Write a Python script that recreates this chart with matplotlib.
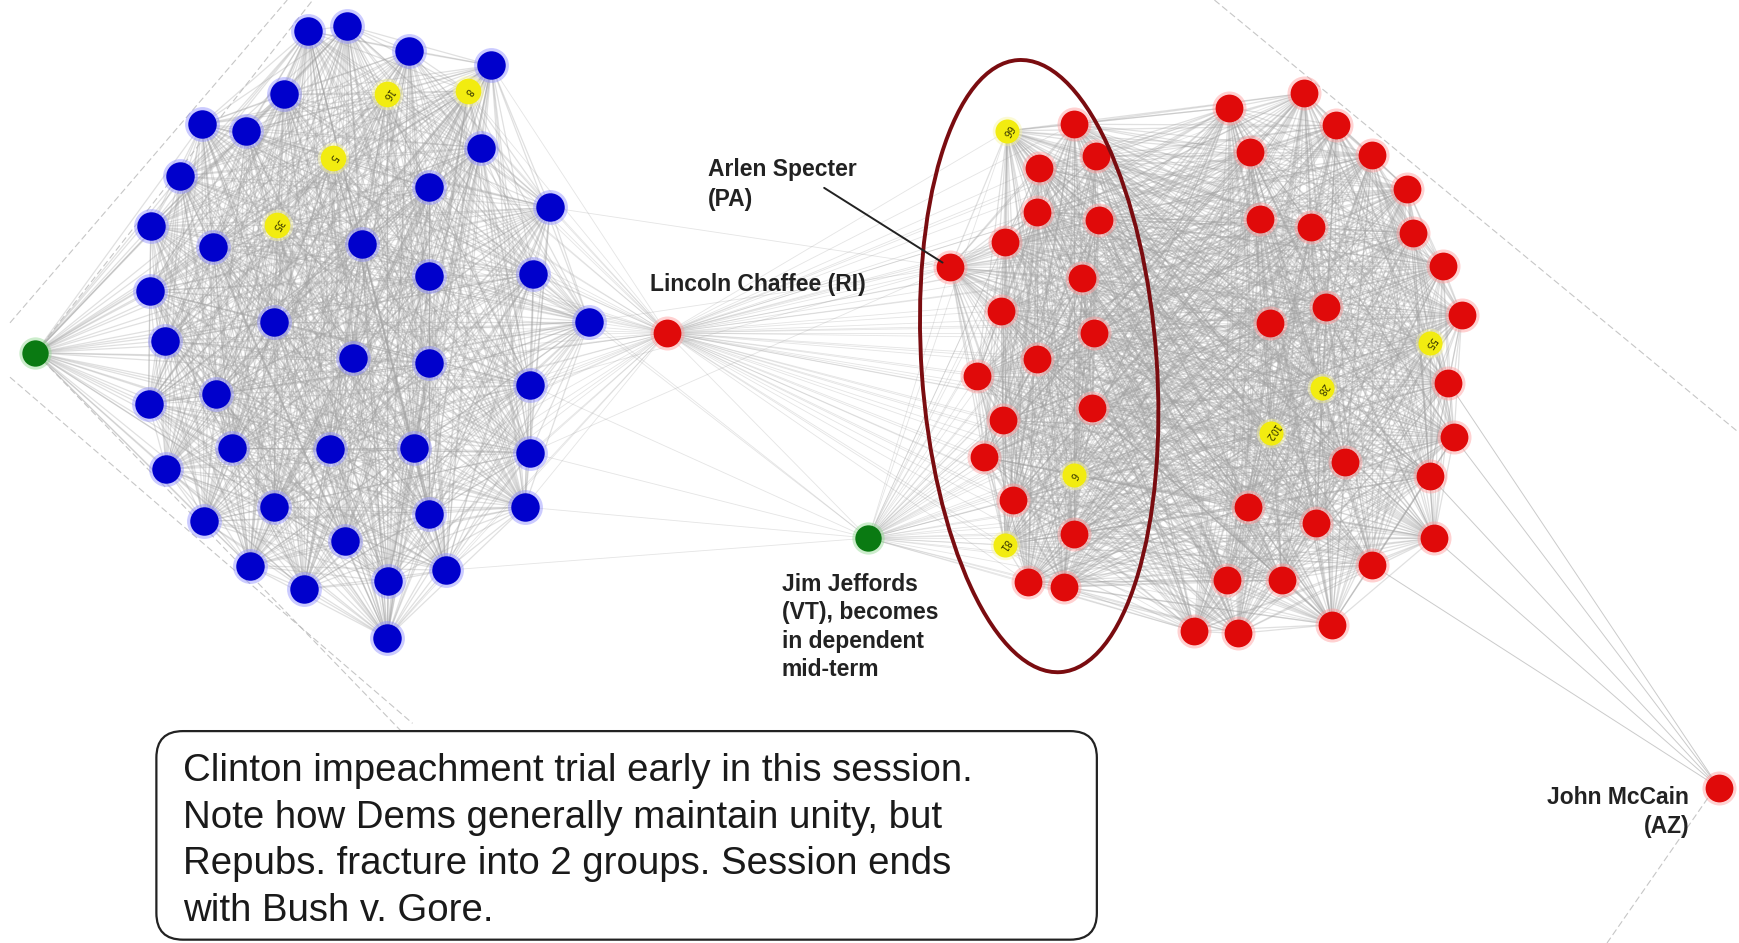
import itertools
import matplotlib
matplotlib.use("Agg")
import matplotlib.pyplot as plt
from matplotlib.collections import LineCollection
from matplotlib.patches import Ellipse, FancyBboxPatch

# ---------------- data (layout positions, px of 1568x850 view) -------------
dem_x = [278, 313, 369, 443, 256, 182, 222, 434, 162, 387, 496, 136, 192, 326, 387, 481, 135, 531,
         247, 149, 318, 387, 478, 134, 195, 209, 298, 373, 478, 150, 247, 387, 473, 184, 311, 225,
         402, 274, 350, 349]
dem_y = [28, 23, 46, 59, 85, 112, 118, 133, 159, 169, 187, 204, 223, 220, 249, 247, 262, 290,
         290, 307, 323, 327, 347, 364, 355, 404, 405, 404, 408, 423, 457, 463, 457, 470, 488, 510,
         514, 531, 524, 575]
dem_hl_x = [349, 422, 300, 250]
dem_hl_y = [85, 82, 142, 203]
dem_hl_labels = ["16", "8", "5", "35"]

rep_x = [968, 988, 937, 935, 991, 906, 857, 976, 903, 986, 935, 881, 985, 904, 887, 913, 968, 927,
         959,
         1108, 1176, 1205, 1237, 1269, 1127, 1136, 1182, 1274, 1301, 1318, 1196, 1145, 1306, 1311,
         1213, 1289, 1125, 1187, 1293, 1237, 1106, 1156, 1077, 1116, 1201]
rep_y = [112, 141, 151, 191, 198, 218, 241, 251, 280, 300, 324, 339, 368, 379, 412, 451, 481, 525,
         529,
         97, 84, 113, 140, 170, 137, 197, 205, 210, 240, 284, 277, 291, 345, 394,
         416, 429, 457, 471, 485, 509, 523, 523, 569, 571, 563]
rep_hl_x = [908, 968, 906, 1289, 1192, 1146]
rep_hl_y = [118, 428, 491, 309, 350, 390]
rep_hl_labels = ["66", "6", "81", "55", "28", "102"]

indep_x = [32, 783]          # left independent, Jim Jeffords
indep_y = [318, 485]
chaffee_xy = (601, 300)
mccain_xy = (1550, 710)
specter_idx = 6               # index in rep lists

# indices of Democrats linked to Jeffords / Specter, Republicans linked to McCain
jeffords_dem_links = [17, 22, 28, 32, 36, 15]
specter_dem_links = [17, 22, 28, 10]
mccain_rep_links = [32, 33, 35, 38, 39]

# faint long edges leaving the canvas
long_edges = [((9, 291), (259, 0)), ((32, 318), (282, 0)), ((9, 340), (372, 652)),
              ((32, 318), (382, 680)), ((1095, 0), (1568, 390)), ((1545, 712), (1449, 850))]

annotation_text = ("Clinton impeachment trial early in this session.\n"
                   "Note how Dems generally maintain unity, but\n"
                   "Repubs. fracture into 2 groups. Session ends\n"
                   "with Bush v. Gore.")

# ---------------- figure -------------
W, H = 1568, 850
fig = plt.figure(figsize=(17.39, 9.43), dpi=100)
ax = fig.add_axes([0, 0, 1, 1])
ax.set_xlim(0, W)
ax.set_ylim(H, 0)
ax.axis("off")

dem_pts = list(zip(dem_x, dem_y)) + list(zip(dem_hl_x, dem_hl_y))
rep_pts = list(zip(rep_x, rep_y)) + list(zip(rep_hl_x, rep_hl_y))
left_ind = (indep_x[0], indep_y[0])
jeff = (indep_x[1], indep_y[1])

cluster_edges = []
cluster_edges += list(itertools.combinations(dem_pts + [left_ind], 2))
cluster_edges += list(itertools.combinations(rep_pts, 2))

bridge_edges = []
bridge_edges += [(chaffee_xy, p) for p in dem_pts + rep_pts]
bridge_edges += [(jeff, p) for p in rep_pts]
bridge_edges += [(jeff, chaffee_xy)]
bridge_edges += [(jeff, (dem_x[i], dem_y[i])) for i in jeffords_dem_links]
sp = (rep_x[specter_idx], rep_y[specter_idx])
bridge_edges += [(sp, (dem_x[i], dem_y[i])) for i in specter_dem_links]

ax.add_collection(LineCollection(cluster_edges, colors="#a2a2a2", linewidths=0.9, alpha=0.33,
                                 zorder=1))
ax.add_collection(LineCollection(bridge_edges, colors="#a0a0a0", linewidths=0.6, alpha=0.28,
                                 zorder=1))

mc_edges = [(mccain_xy, (rep_x[i], rep_y[i])) for i in mccain_rep_links]
ax.add_collection(LineCollection(mc_edges, colors="#a8a8a8", linewidths=0.7, alpha=0.6, zorder=1))
ax.add_collection(LineCollection(long_edges, colors="#b8b8b8", linewidths=0.8, alpha=0.8,
                                 linestyles=(0, (6, 3)), zorder=1))


def nodes(xs, ys, color, halo, s=420, zorder=3):
    ax.scatter(xs, ys, s=s * 1.5, c=halo, alpha=0.45, linewidths=0, zorder=zorder)
    ax.scatter(xs, ys, s=s, c=color, linewidths=0, zorder=zorder + 0.1)


nodes(dem_x, dem_y, "#0000cc", "#8c8cff")
nodes(dem_hl_x, dem_hl_y, "#f2ec10", "#f8f4a0", s=340)
nodes(rep_x + [chaffee_xy[0], mccain_xy[0]], rep_y + [chaffee_xy[1], mccain_xy[1]],
      "#e00a0a", "#ff9a9a", s=400)
nodes(rep_hl_x, rep_hl_y, "#f2ec10", "#f8f4a0", s=300)
nodes(indep_x, indep_y, "#0a7a12", "#8fd88f", s=360)

for x, y, t in zip(dem_hl_x + rep_hl_x, dem_hl_y + rep_hl_y, dem_hl_labels + rep_hl_labels):
    ax.text(x, y, t, fontsize=7, rotation=235, ha="center", va="center",
            color="#333300", zorder=5)

# ellipse highlighting the moderate Republican group
ax.add_patch(Ellipse((937, 330), width=212, height=553, angle=-4, fill=False,
                     edgecolor="#7a0c10", linewidth=2.8, zorder=6))

lab = dict(fontsize=16.5, fontweight="bold", color="#222222", family=["Liberation Sans", "DejaVu Sans"],
           zorder=7)
ax.text(638, 166, "Arlen Specter\n(PA)", ha="left", va="center", linespacing=1.4, **lab)
ax.annotate("", xy=(852, 238), xytext=(741, 168),
            arrowprops=dict(arrowstyle="-", color="#222222", lw=1.4), zorder=7)
ax.text(586, 256, "Lincoln Chaffee (RI)", ha="left", va="center", **lab)
ax.text(705, 565, "Jim Jeffords\n(VT), becomes\nin dependent\nmid-term", ha="left", va="center",
        linespacing=1.3, **lab)
ax.text(1523, 732, "John McCain\n(AZ)", ha="right", va="center", linespacing=1.3,
        multialignment="right", **lab)

# annotation box
box = FancyBboxPatch((141, 659), 848, 188, boxstyle="round,pad=0,rounding_size=24",
                     facecolor="white", edgecolor="#222222", linewidth=1.6, zorder=8)
ax.add_patch(box)
ax.text(165, 758, annotation_text, ha="left", va="center", fontsize=27.6,
        family=["Liberation Sans", "DejaVu Sans"], color="#1a1a1a", linespacing=1.38, zorder=9)

fig.savefig("out.png", dpi=100)
